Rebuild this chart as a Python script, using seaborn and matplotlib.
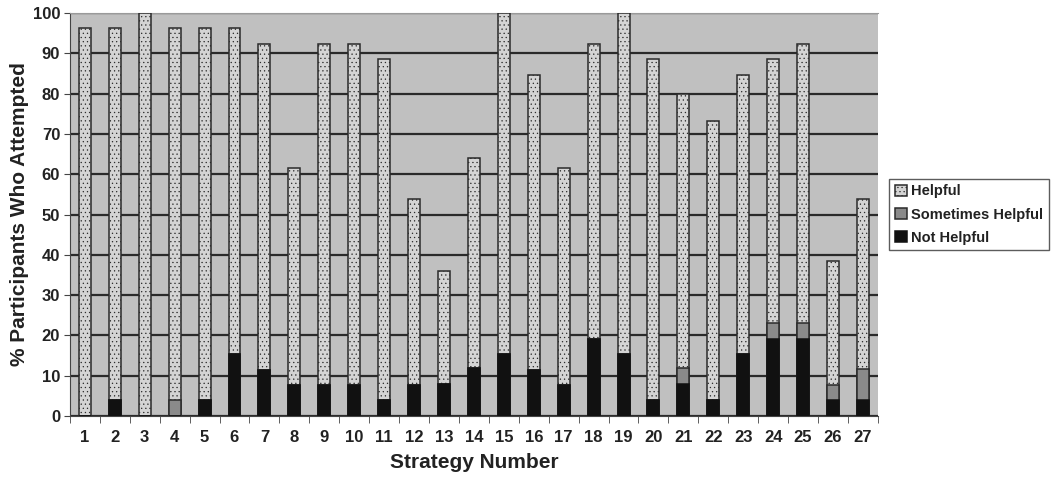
import matplotlib
matplotlib.use("Agg")
import matplotlib.pyplot as plt
import seaborn as sns
import numpy as np
import pandas as pd

strategies = [str(i) for i in range(1, 28)]
total = [96.2, 96.2, 100, 96.2, 96.2, 96.2, 92.3, 61.5, 92.3, 92.3, 88.5, 53.8, 36.0, 64.0,
         100, 84.6, 61.5, 92.3, 100, 88.5, 80.0, 73.1, 84.6, 88.5, 92.3, 38.5, 53.8]
not_helpful = [0, 3.85, 0, 0, 3.85, 15.4, 11.5, 7.7, 7.7, 7.7, 3.85, 7.7, 8.0, 12.0,
               15.4, 11.5, 7.7, 19.2, 15.4, 3.85, 8.0, 3.85, 15.4, 19.2, 19.2, 3.85, 3.85]
sometimes = [0, 0, 0, 3.85, 0, 0, 0, 0, 0, 0, 0, 0, 0, 0,
             0, 0, 0, 0, 0, 0, 4.0, 0, 0, 3.85, 3.85, 3.85, 7.7]

df = pd.DataFrame({"Strategy": strategies, "total": total,
                   "nh": not_helpful, "sh": sometimes})
df["lower"] = df["nh"] + df["sh"]

sns.set_style("white")
plt.rcParams["font.family"] = ["Liberation Sans", "DejaVu Sans"]
plt.rcParams["hatch.color"] = "#c2c2c2"
plt.rcParams["hatch.linewidth"] = 0.4

fig = plt.figure(figsize=(10.59, 4.87), dpi=100)
ax = fig.add_axes([0.066, 0.146, 0.763, 0.827])
ax.set_facecolor("#c0c0c0")

w = 0.4
sns.barplot(data=df, x="Strategy", y="total", color="#d4d4d4", width=w,
            edgecolor="#2a2a2a", linewidth=1.1, ax=ax, label="Helpful", zorder=3)
sns.barplot(data=df, x="Strategy", y="lower", color="#8a8a8a", width=w,
            edgecolor="#2a2a2a", linewidth=1.1, ax=ax, label="Sometimes Helpful", zorder=4)
sns.barplot(data=df, x="Strategy", y="nh", color="#111111", width=w,
            edgecolor="#111111", linewidth=1.1, ax=ax, label="Not Helpful", zorder=5)
for p in ax.containers[0]:
    p.set_hatch("....")

ax.set_ylim(0, 100)
ax.set_xlim(-0.5, 26.5)
ax.set_yticks(range(0, 101, 10))
ax.yaxis.grid(True, color="#2a2a2a", linewidth=1.6, zorder=1)
ax.set_axisbelow(True)
ax.xaxis.grid(False)

ax.spines["right"].set_visible(False)
ax.spines["top"].set_color("#9a9a9a")
ax.spines["left"].set_color("#444444")
ax.spines["bottom"].set_color("#444444")

ax.tick_params(axis="y", length=4, direction="out", labelsize=12, left=True,
               color="#444444", pad=3)
ax.tick_params(axis="x", which="major", length=0, labelsize=12, pad=10)
ax.set_xticks(np.arange(-0.5, 27, 1), minor=True)
ax.tick_params(axis="x", which="minor", length=5, bottom=True, color="#444444")
for lab in ax.get_xticklabels() + ax.get_yticklabels():
    lab.set_fontweight("bold")
    lab.set_color("#222222")

ax.set_xlabel("Strategy Number", fontsize=15, fontweight="bold", labelpad=6, color="#222222")
ax.set_ylabel("% Participants Who Attempted", fontsize=15, fontweight="bold",
              labelpad=3, color="#222222")

leg = ax.legend(loc="center left", bbox_to_anchor=(1.014, 0.5), frameon=True,
                fancybox=False, edgecolor="#333333", fontsize=10.5,
                handlelength=0.8, handleheight=0.8, handletextpad=0.3,
                borderpad=0.4, labelspacing=0.62, borderaxespad=0)
for t in leg.get_texts():
    t.set_fontweight("bold")
    t.set_color("#222222")
leg.get_frame().set_linewidth(1.0)

fig.savefig("out.png", dpi=100, facecolor="white")
